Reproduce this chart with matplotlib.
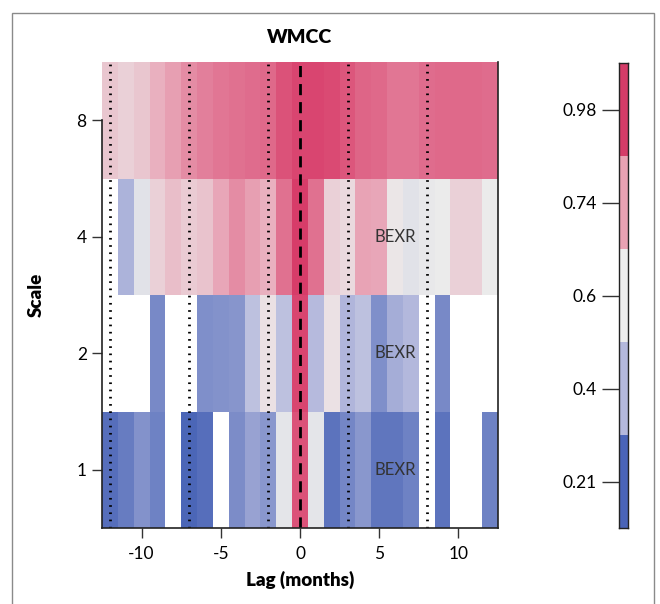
import numpy as np
import matplotlib
matplotlib.use("Agg")
import matplotlib.pyplot as plt
from matplotlib.colors import LinearSegmentedColormap, Normalize, ListedColormap
from matplotlib.patches import Rectangle

plt.rcParams['font.family'] = ['Lato', 'DejaVu Sans']

lags = list(range(-12, 13))
scale_labels = ["1", "2", "4", "8"]
nan = np.nan
row_scale1 = [0.15, 0.20, 0.28, 0.22, nan, 0.12, 0.15, nan, 0.26, 0.34, 0.30, 0.57, 0.93,
              0.57, 0.17, 0.24, 0.30, 0.18, 0.18, 0.22, nan, 0.17, nan, nan, 0.22]
row_scale2 = [nan, nan, nan, 0.25, nan, nan, 0.27, 0.28, 0.29, 0.45, 0.61, 0.45, 0.96,
              0.43, 0.61, 0.41, 0.45, 0.27, 0.38, 0.42, nan, 0.25, nan, nan, nan]
row_scale4 = [nan, 0.40, 0.56, 0.65, 0.69, 0.66, 0.68, 0.74, 0.80, 0.76, 0.72, 0.86, 0.98,
              0.86, 0.65, 0.63, 0.75, 0.74, 0.60, 0.56, 0.58, 0.59, 0.65, 0.65, 0.59]
row_scale8 = [0.67, 0.65, 0.67, 0.72, 0.76, 0.80, 0.83, 0.85, 0.86, 0.87, 0.88, 0.93, 0.96,
              0.96, 0.95, 0.92, 0.89, 0.88, 0.85, 0.85, 0.87, 0.88, 0.88, 0.88, 0.87]
dotted_lags = [-12, -7, -2, 3, 8]
label_lag = 6
cbar_ticklabels = ["0.21", "0.4", "0.6", "0.74", "0.98"]
cbar_colors = ["#4a64b8", "#b4b8dc", "#ececec", "#e8a2b3", "#d43c68"]

Z = np.array([row_scale1, row_scale2, row_scale4, row_scale8], dtype=float)

vmin, vmax = 0.1, 1.0
pts = [(0.10, "#4561b5"), (0.42, "#b3b8dc"), (0.59, "#ebebeb"), (0.75, "#e8a3b5"), (1.0, "#d63463")]
cmap = LinearSegmentedColormap.from_list(
    "wmcc", [((v - vmin) / (vmax - vmin), c) for v, c in pts])
cmap.set_bad("white")

fig = plt.figure(figsize=(6.6, 6.04), dpi=100)

# outer frame
fig.patches.append(Rectangle((12/660, -0.01), (654-12)/660, 1 - 13/604 + 0.01,
                             transform=fig.transFigure, fill=False,
                             edgecolor="#8a8a8a", lw=1.0))

ax = fig.add_axes([102/660, 1 - 528/604, 396/660, 466/604])
x_edges = np.arange(-12.5, 13.0, 1.0)
y_edges = np.arange(0, 5)
ax.pcolormesh(x_edges, y_edges, np.ma.masked_invalid(Z), cmap=cmap,
              norm=Normalize(vmin, vmax), shading="flat")
ax.set_xlim(-12.5, 12.5)
ax.set_ylim(0, 4)

for l in dotted_lags:
    ax.axvline(l, color="black", lw=2.0, ls=(0, (0.6, 2.0)), dash_capstyle="butt")
ax.axvline(0, color="black", lw=2.0, ls=(0, (4, 2.5)))

for r in [0.5, 1.5, 2.5]:
    ax.text(label_lag, r, "BEXR", ha="center", va="center", fontsize=12, color="#333333")

ax.set_yticks([0.5, 1.5, 2.5, 3.5])
ax.set_yticklabels(scale_labels)
ax.set_xticks([-10, -5, 0, 5, 10])
ax.set_xticklabels(["-10", "-5", "0", "5", "10"])
ax.tick_params(axis="both", labelsize=12.5, length=7, width=1, color="#333333", pad=4)
ax.tick_params(axis="x", pad=6)
ax.spines["top"].set_visible(False)
ax.spines["left"].set_bounds(0, 3.5)
for s in ["left", "right", "bottom"]:
    ax.spines[s].set_linewidth(1.2)
    ax.spines[s].set_color("#222222")

ax.set_title("WMCC", fontsize=14, fontweight="heavy", pad=14)
ax.set_xlabel("Lag (months)", fontsize=13.5, fontweight="heavy", labelpad=6)
ax.set_ylabel("Scale", fontsize=13.5, fontweight="heavy")
ax.yaxis.set_label_coords(-0.145, 0.5)

# discrete colorbar
cax = fig.add_axes([619/660, 1 - 528/604, 9/660, 465/604])
cax.imshow(np.arange(5).reshape(5, 1), cmap=ListedColormap(cbar_colors),
           aspect="auto", origin="lower", extent=[0, 1, 0, 5])
cax.set_xticks([])
cax.set_yticks(np.arange(5) + 0.5)
cax.set_yticklabels(cbar_ticklabels)
cax.tick_params(axis="y", labelsize=12.5, length=12, width=1, color="#333333", pad=4,
                left=True, labelleft=True, right=False, labelright=False)
for s in cax.spines.values():
    s.set_linewidth(1.0)
    s.set_color("#222222")

fig.savefig("out.png", dpi=100)
